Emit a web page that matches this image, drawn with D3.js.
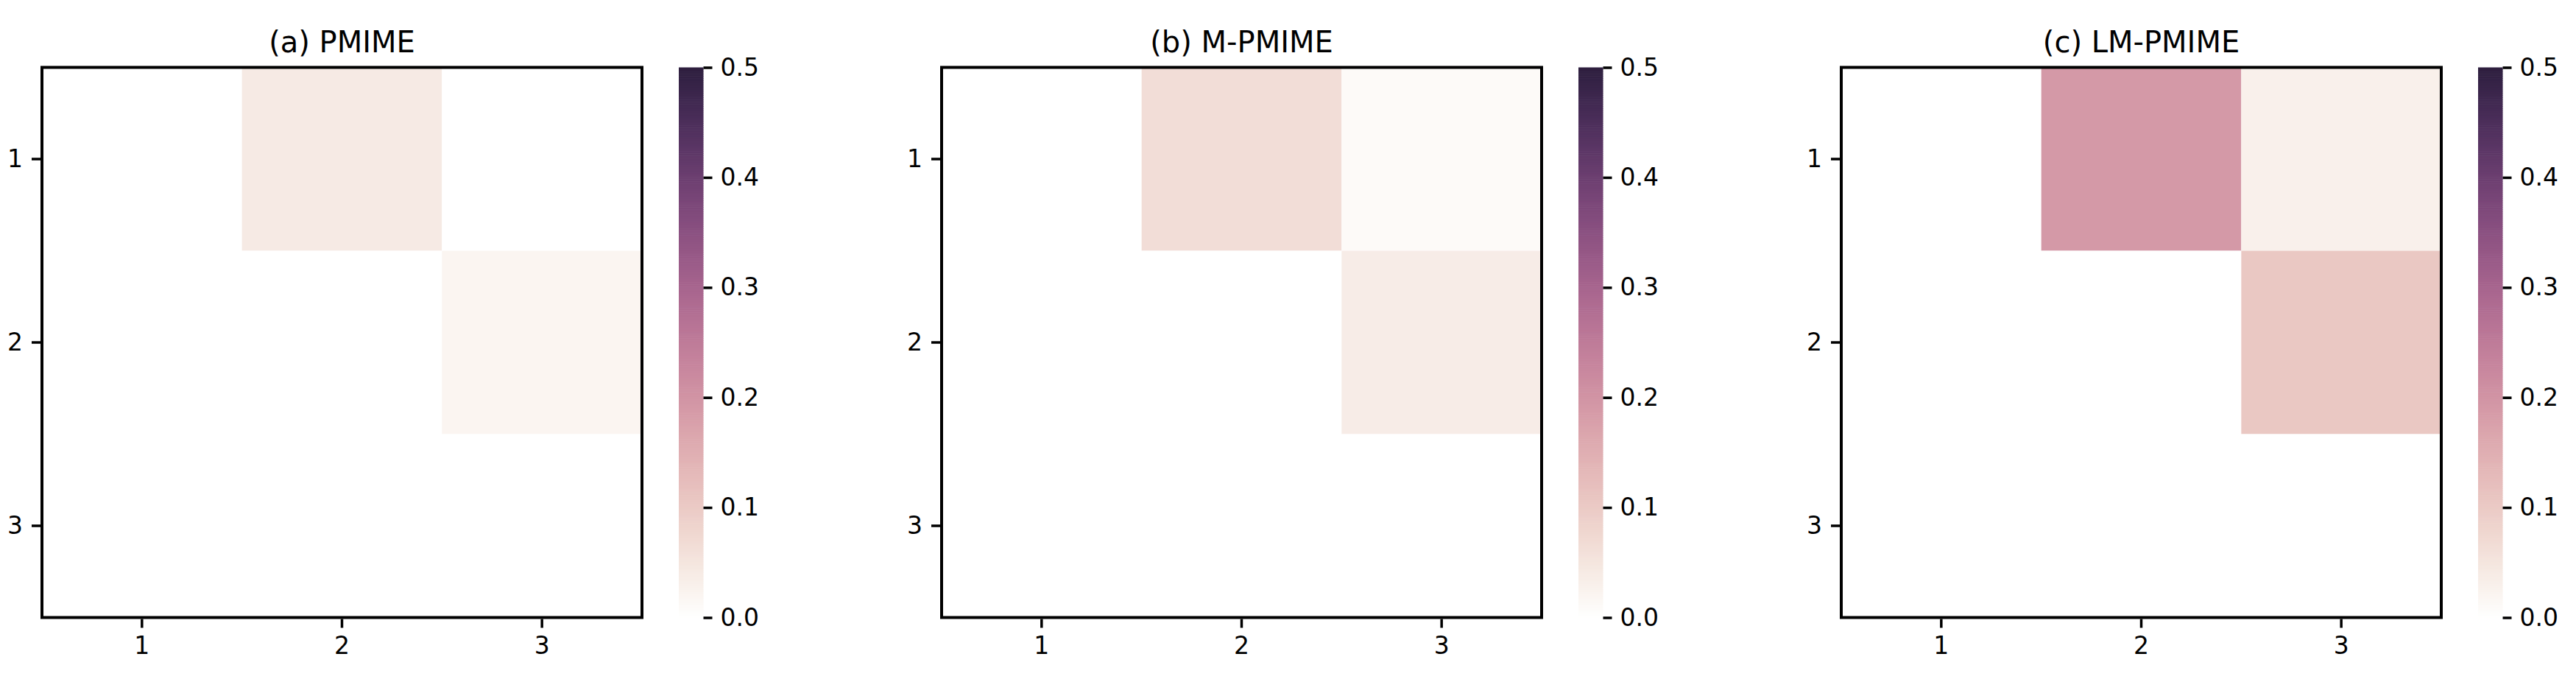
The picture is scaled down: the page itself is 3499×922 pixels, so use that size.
<!DOCTYPE html>
<html>
<head>
<meta charset="utf-8">
<script src="https://d3js.org/d3.v7.min.js"></script>
<style>
  html, body { margin: 0; padding: 0; background: #fff; }
  svg { display: block; }
  text { font-family: "DejaVu Sans", sans-serif; fill: #000; }
</style>
</head>
<body>
<svg id="chart" width="3499" height="922"></svg>
<script>
// ---- data ----
const nodeLabels = ["1", "2", "3"];
const panelTitles = ["(a) PMIME", "(b) M-PMIME", "(c) LM-PMIME"];
const pmimeValues = [
  [0, 0.042, 0],
  [0, 0, 0.02],
  [0, 0, 0]
];
const mPmimeValues = [
  [0, 0.065, 0.01],
  [0, 0, 0.037],
  [0, 0, 0]
];
const lmPmimeValues = [
  [0, 0.19, 0.03],
  [0, 0, 0.105],
  [0, 0, 0]
];
const colorbarTicks = [0.0, 0.1, 0.2, 0.3, 0.4, 0.5];
const valueDomain = [0, 0.5];

const panels = [pmimeValues, mPmimeValues, lmPmimeValues];

// ---- seaborn-style cubehelix colormap (start=0, rot=0.4, light=1, dark=0.15) ----
function cubehelixColor(x) {
  const hue = 0.8, rot = 0.4, start = 0;
  const a = hue * x * (1 - x) / 2;
  const phi = 2 * Math.PI * (start / 3 + rot * x);
  const c = Math.cos(phi), s = Math.sin(phi);
  const clip = v => Math.max(0, Math.min(1, v));
  const r = clip(x + a * (-0.14861 * c + 1.78277 * s));
  const g = clip(x + a * (-0.29227 * c - 0.90649 * s));
  const b = clip(x + a * (1.97294 * c));
  return d3.rgb(Math.round(r * 255), Math.round(g * 255), Math.round(b * 255));
}
const lightness = d3.scaleLinear().domain(valueDomain).range([1.0, 0.15]).clamp(true);
const color = v => cubehelixColor(lightness(v)).formatHex();

// ---- layout ----
const svg = d3.select("#chart");
const panelW = 815, panelH = 747;
const plotTop = 91.5;
const lefts = [57, 1279, 2501];
const cbarGap = 50, cbarW = 33.5;
const frameW = 4;
const tickLen = 12, tickPad = 12;
const tickFont = 33, titleFont = 40;

panels.forEach((vals, p) => {
  const left = lefts[p];
  const g = svg.append("g");

  const x = d3.scaleBand().domain(nodeLabels).range([left, left + panelW]).padding(0);
  const y = d3.scaleBand().domain(nodeLabels).range([plotTop, plotTop + panelH]).padding(0);

  const cells = [];
  vals.forEach((row, i) => row.forEach((v, j) => cells.push({ r: nodeLabels[i], c: nodeLabels[j], v })));

  g.selectAll("rect.cell").data(cells).join("rect")
    .attr("class", "cell")
    .attr("x", d => x(d.c))
    .attr("y", d => y(d.r))
    .attr("width", x.bandwidth())
    .attr("height", y.bandwidth())
    .attr("fill", d => color(d.v))
    .attr("stroke", "none");

  // frame
  g.append("rect")
    .attr("x", left).attr("y", plotTop)
    .attr("width", panelW).attr("height", panelH)
    .attr("fill", "none").attr("stroke", "#000").attr("stroke-width", frameW);

  // axes
  const xAxis = g.append("g")
    .attr("transform", `translate(0,${plotTop + panelH + frameW / 2})`)
    .call(d3.axisBottom(x).tickSize(tickLen).tickPadding(tickPad).tickSizeOuter(0));
  const yAxis = g.append("g")
    .attr("transform", `translate(${left - frameW / 2},0)`)
    .call(d3.axisLeft(y).tickSize(tickLen).tickPadding(tickPad).tickSizeOuter(0));
  [xAxis, yAxis].forEach(ax => {
    ax.select(".domain").remove();
    ax.selectAll(".tick line").attr("stroke", "#000").attr("stroke-width", 3.5);
    ax.selectAll(".tick text").style("font-size", tickFont + "px").style("font-family", "DejaVu Sans");
  });

  // title
  g.append("text")
    .attr("x", left + panelW / 2)
    .attr("y", 71)
    .attr("text-anchor", "middle")
    .style("font-size", titleFont + "px")
    .text(panelTitles[p]);

  // colorbar
  const cbX = left + panelW + cbarGap;
  const cy = d3.scaleLinear().domain(valueDomain).range([plotTop + panelH, plotTop]);
  const steps = d3.range(256).map(k => valueDomain[0] + (valueDomain[1] - valueDomain[0]) * k / 256);
  const stepH = (cy(valueDomain[0]) - cy(valueDomain[1])) / 256;
  g.selectAll("rect.cb").data(steps).join("rect")
    .attr("class", "cb")
    .attr("x", cbX)
    .attr("y", d => cy(d) - stepH)
    .attr("width", cbarW)
    .attr("height", stepH + 0.6)
    .attr("fill", d => color(d + (valueDomain[1] - valueDomain[0]) / 512));

  const cAxis = g.append("g")
    .attr("transform", `translate(${cbX + cbarW},0)`)
    .call(d3.axisRight(cy).tickValues(colorbarTicks).tickFormat(d3.format(".1f"))
      .tickSize(tickLen).tickPadding(11).tickSizeOuter(0));
  cAxis.select(".domain").remove();
  cAxis.selectAll(".tick line").attr("stroke", "#000").attr("stroke-width", 3.5);
  cAxis.selectAll(".tick text").style("font-size", tickFont + "px").style("font-family", "DejaVu Sans");
});
</script>
</body>
</html>
